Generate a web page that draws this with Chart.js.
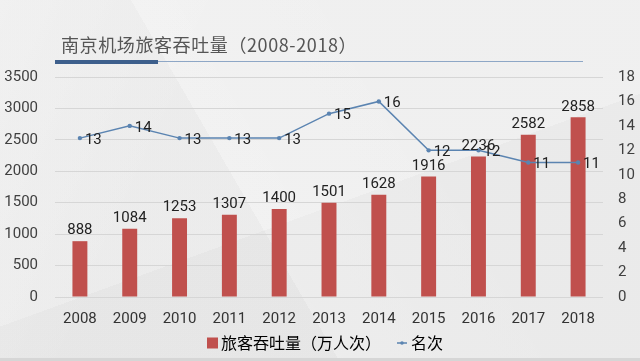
<!DOCTYPE html>
<html><head><meta charset="utf-8">
<script src="https://cdn.jsdelivr.net/npm/chart.js@4.4.1/dist/chart.umd.min.js"></script>
<style>
html,body{margin:0;padding:0;}
body{width:640px;height:361px;overflow:hidden;position:relative;
background:
 linear-gradient(115deg, rgba(255,255,255,0.25) 0%, rgba(255,255,255,0) 30%),
 linear-gradient(60deg, rgba(0,0,0,0.015) 40%, rgba(255,255,255,0.12) 40%, rgba(255,255,255,0) 70%),
 linear-gradient(160deg, rgba(255,255,255,0.15) 55%, rgba(0,0,0,0.012) 55%),
 #ededed;}
#wrap{position:absolute;left:0;top:0;width:640px;height:361px;}
#title{position:absolute;left:61px;top:31px;font:18px "Noto Sans CJK SC",sans-serif;color:#555;white-space:nowrap;letter-spacing:0.6px;}
#thick{position:absolute;left:55px;top:60px;width:103px;height:4px;background:#3d5f8c;}
#thin{position:absolute;left:158px;top:61px;width:425px;height:1px;background:#8ea7c6;}
#foot{position:absolute;left:0;top:358px;width:640px;height:3px;background:#d6d6d6;}
</style></head>
<body>
<div id="wrap"><canvas id="c" width="640" height="361"></canvas></div>
<div id="title">南京机场旅客吞吐量（2008-2018）</div>
<div id="thick"></div><div id="thin"></div>
<div id="foot"></div>
<script>
const categories = ['2008','2009','2010','2011','2012','2013','2014','2015','2016','2017','2018'];
const passengers = [888,1084,1253,1307,1400,1501,1628,1916,2236,2582,2858];
const ranks = [13,14,13,13,13,15,16,12,12,11,11];
const seriesNames = ['旅客吞吐量（万人次）','名次'];
const leftTicks = {min:0,max:3500,step:500};
const rightTicks = {min:0,max:18,step:2};

const barColor = '#c0504d';
const lineColor = '#5b84b1';
const tickFont = {family:'Roboto', size:15};

// legend icons: drawn on the right part of a 26px canvas so that the
// visible mark sits close to its text
function makeIcon(draw){const c=document.createElement('canvas');c.width=26;c.height=12;draw(c.getContext('2d'));return c;}
const barIcon = makeIcon(g=>{g.fillStyle=barColor;g.fillRect(15,0.5,11,11);});
const lineIcon = makeIcon(g=>{g.strokeStyle=lineColor;g.lineWidth=1.5;g.beginPath();g.moveTo(15,6);g.lineTo(25,6);g.stroke();
  g.fillStyle=lineColor;g.beginPath();g.arc(20,6,1.8,0,Math.PI*2);g.fill();});

const labelPlugin = {
  id:'valueLabels',
  afterDatasetsDraw(chart){
    const ctx = chart.ctx;
    ctx.save();
    ctx.font = '15px Roboto';
    ctx.fillStyle = '#222';
    chart.getDatasetMeta(0).data.forEach((el,i)=>{
      ctx.textAlign='center'; ctx.textBaseline='bottom';
      ctx.fillText(String(passengers[i]), el.x, el.y-3);
    });
    chart.getDatasetMeta(1).data.forEach((el,i)=>{
      ctx.textAlign='left'; ctx.textBaseline='middle';
      ctx.fillText(String(ranks[i]), el.x+5, el.y+2);
    });
    ctx.restore();
  }
};

new Chart(document.getElementById('c'), {
  data:{
    labels:categories,
    datasets:[
      {type:'bar',label:seriesNames[0],data:passengers,backgroundColor:barColor,yAxisID:'y',
       barPercentage:0.6,categoryPercentage:0.5,order:1},
      {type:'line',label:seriesNames[1],data:ranks,borderColor:lineColor,backgroundColor:lineColor,
       borderWidth:1.5,pointRadius:2.2,pointBackgroundColor:lineColor,pointBorderWidth:0,yAxisID:'y1',tension:0,order:0}
    ]
  },
  options:{
    responsive:false,animation:false,
    layout:{padding:{top:77,bottom:0,left:0,right:0}},
    plugins:{
      tooltip:{enabled:false},
      legend:{position:'bottom',
        labels:{usePointStyle:true,boxWidth:16,boxHeight:12,padding:6,color:'#595959',
          font:{family:'"Noto Sans CJK SC"',size:16},
          generateLabels(chart){
            return [
              {text:seriesNames[0],fillStyle:barColor,strokeStyle:barColor,lineWidth:0,pointStyle:barIcon,datasetIndex:0,hidden:false},
              {text:seriesNames[1],fillStyle:lineColor,strokeStyle:lineColor,lineWidth:0,pointStyle:lineIcon,datasetIndex:1,hidden:false}
            ];
          }}}
    },
    scales:{
      x:{grid:{display:false,drawTicks:false},border:{display:false},
         ticks:{color:'#333',font:tickFont,padding:13,maxRotation:0},
         afterFit(s){s.height=32;}},
      y:{position:'left',min:leftTicks.min,max:leftTicks.max,
         grid:{color:'#d6d6d6',drawTicks:false},border:{display:false},
         ticks:{stepSize:leftTicks.step,color:'#404040',font:tickFont,padding:17,callback:v=>String(v)},
         afterFit(s){s.width=55;}},
      y1:{position:'right',min:rightTicks.min,max:rightTicks.max,
         grid:{drawOnChartArea:false,drawTicks:false},border:{display:false},
         ticks:{stepSize:rightTicks.step,color:'#404040',font:tickFont,padding:15,callback:v=>String(v)},
         afterFit(s){s.width=37;}}
    }
  },
  plugins:[labelPlugin]
});
</script>
</body></html>
